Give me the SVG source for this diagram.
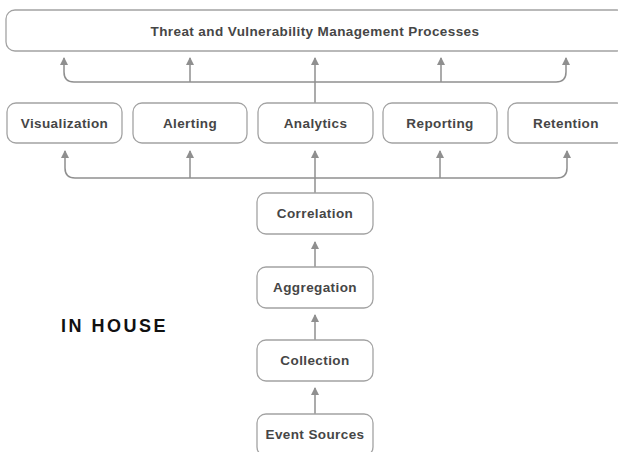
<svg xmlns="http://www.w3.org/2000/svg" width="618" height="452" viewBox="0 0 618 452">
<style>
.box{fill:#fff;stroke:#a3a3a3;stroke-width:1.3}
.lbl{font-family:"Liberation Sans",Arial,sans-serif;font-weight:bold;font-size:13.5px;fill:#464646;text-anchor:middle;letter-spacing:0.4px}
.con{fill:none;stroke:#8f8f8f;stroke-width:1.5}
</style>
<defs>
<marker id="ah" viewBox="0 0 8 10" refX="7" refY="5" markerWidth="8" markerHeight="10" markerUnits="userSpaceOnUse" orient="auto">
<path d="M0,1 L8,5 L0,9 Z" fill="#8f8f8f"/>
</marker>
</defs>
<rect width="618" height="452" fill="#fff"/>
<g id="connectors">
<path class="con" d="M315,103 V58" marker-end="url(#ah)"/>
<path class="con" d="M74,82 H556"/>
<path class="con" d="M74,82 Q64,82 64,72 V58" marker-end="url(#ah)"/>
<path class="con" d="M556,82 Q566,82 566,72 V58" marker-end="url(#ah)"/>
<path class="con" d="M190,82 V58" marker-end="url(#ah)"/>
<path class="con" d="M441,82 V58" marker-end="url(#ah)"/>
<path class="con" d="M315,193 V151" marker-end="url(#ah)"/>
<path class="con" d="M75,178 H557"/>
<path class="con" d="M75,178 Q65,178 65,168 V151" marker-end="url(#ah)"/>
<path class="con" d="M557,178 Q567,178 567,168 V151" marker-end="url(#ah)"/>
<path class="con" d="M190,178 V151" marker-end="url(#ah)"/>
<path class="con" d="M440,178 V151" marker-end="url(#ah)"/>
<path class="con" d="M315,267 V242" marker-end="url(#ah)"/>
<path class="con" d="M315,340 V315" marker-end="url(#ah)"/>
<path class="con" d="M315,414 V388" marker-end="url(#ah)"/>
</g>
<g id="threat"><rect class="box" x="6" y="10" width="620" height="41" rx="9"/><text class="lbl" x="315" y="36">Threat and Vulnerability Management Processes</text></g>
<g id="visualization"><rect class="box" x="7" y="103" width="115" height="40" rx="9"/><text class="lbl" x="64.5" y="128">Visualization</text></g>
<g id="alerting"><rect class="box" x="133" y="103" width="114" height="40" rx="9"/><text class="lbl" x="190" y="128">Alerting</text></g>
<g id="analytics"><rect class="box" x="258" y="103" width="115" height="40" rx="9"/><text class="lbl" x="315.5" y="128">Analytics</text></g>
<g id="reporting"><rect class="box" x="383" y="103" width="114" height="40" rx="9"/><text class="lbl" x="440" y="128">Reporting</text></g>
<g id="retention"><rect class="box" x="508" y="103" width="118" height="40" rx="9"/><text class="lbl" x="566" y="128">Retention</text></g>
<g id="correlation"><rect class="box" x="257" y="193" width="116" height="41" rx="9"/><text class="lbl" x="315" y="218">Correlation</text></g>
<g id="aggregation"><rect class="box" x="257" y="267" width="116" height="41" rx="9"/><text class="lbl" x="315" y="292">Aggregation</text></g>
<g id="collection"><rect class="box" x="257" y="340" width="116" height="41" rx="9"/><text class="lbl" x="315" y="365">Collection</text></g>
<g id="event-sources"><rect class="box" x="257" y="414" width="116" height="42" rx="9"/><text class="lbl" x="315" y="439">Event Sources</text></g>
<g id="in-house"><text x="61" y="332" font-family="'Liberation Sans',Arial,sans-serif" font-weight="bold" font-size="18" letter-spacing="2.5" fill="#111">IN HOUSE</text></g>
</svg>
